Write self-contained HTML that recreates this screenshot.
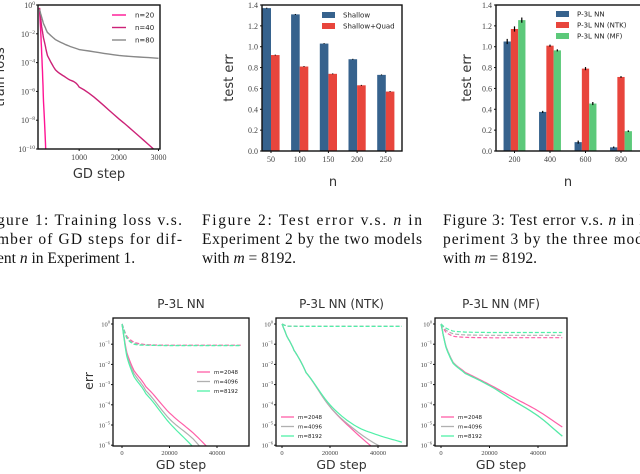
<!DOCTYPE html>
<html><head><meta charset="utf-8">
<style>
html,body{margin:0;padding:0;background:#fff;width:640px;height:474px;overflow:hidden}
svg{display:block}
.tk{font-family:"Liberation Serif",serif;font-size:8px;fill:#444}
.tks{font-family:"Liberation Serif",serif;font-size:6.5px;fill:#444}
.al{font-family:"DejaVu Sans","Liberation Sans",sans-serif;fill:#333}
.cap{font-family:"Liberation Serif",serif;font-size:15.5px;fill:#111}
.lg{font-family:"DejaVu Sans","Liberation Sans",sans-serif;font-size:7px;fill:#222}
.lgs{font-family:"DejaVu Sans","Liberation Sans",sans-serif;font-size:5.5px;fill:#222}
</style></head><body>
<svg id="root" width="640" height="474" viewBox="0 0 640 474"></svg>
<script>
// ---------- Data ----------
const f1Steps=[0,50,100,200,400,700,1000,2000,3000];
const f1N20=[-0.2,-3,-6.7,-13,-20,-20,-20,-20,-20];
const f1N40=[-0.2,-1.4,-2.3,-3.5,-4.5,-5.1,-5.7,-7.9,-10.3];
const f1N80=[-0.3,-0.8,-1.3,-1.9,-2.4,-2.8,-3.1,-3.5,-3.7];
const f1Labels=["n=20","n=40","n=80"];
const f2Cats=["50","100","150","200","250"];
const f2Shallow=[1.37,1.31,1.03,0.88,0.73];
const f2Quad=[0.92,0.81,0.74,0.63,0.57];
const f3Cats=["200","400","600","800","1000"];
const f3P3L=[1.05,0.375,0.085,0.035,0.02];
const f3NTK=[1.17,1.01,0.79,0.71,0.65];
const f3MF=[1.255,0.965,0.455,0.19,0.1];
const f3Err=[0.025,0.01,0.015,0.008,0.005];
const bSteps=[0,2000,5000,10000,20000,30000,40000,50000];
const b1Pink=[0,-1.4,-2.3,-3.1,-4.4,-5.4,-6.5,-7];
const b1Gray=[0,-1.5,-2.45,-3.3,-4.7,-5.7,-7,-7.5];
const b1Green=[0,-1.6,-2.6,-3.45,-4.9,-6.1,-7.5,-8];
const b1DPink=[0,-0.6,-0.9,-1.02,-1.05,-1.05,-1.05,-1.05];
const b1DGray=[0,-0.65,-0.95,-1.04,-1.06,-1.06,-1.06,-1.06];
const b1DGreen=[0,-0.7,-1.0,-1.05,-1.07,-1.07,-1.07,-1.07];
const b2Pink=[0,-0.6,-1.3,-2.4,-4.1,-5.3,-6.3,-7];
const b2Gray=[0,-0.6,-1.3,-2.4,-4.1,-5.2,-6.0,-6.5];
const b2Green=[0,-0.6,-1.3,-2.4,-4.0,-5.0,-5.5,-5.85];
const b2DPink=[0,-0.1,-0.11,-0.12,-0.12,-0.12,-0.12,-0.12];
const b2DGray=[0,-0.1,-0.11,-0.12,-0.12,-0.12,-0.12,-0.12];
const b2DGreen=[0,-0.1,-0.11,-0.12,-0.12,-0.12,-0.12,-0.12];
const b3Pink=[0,-1.1,-1.9,-2.4,-3.0,-3.65,-4.3,-5.1];
const b3Gray=[0,-1.1,-1.9,-2.45,-3.05,-3.8,-4.55,-5.55];
const b3Green=[0,-1.15,-1.95,-2.45,-3.05,-3.8,-4.55,-5.55];
const b3DPink=[0,-0.4,-0.6,-0.66,-0.68,-0.68,-0.68,-0.68];
const b3DGray=[0,-0.3,-0.48,-0.54,-0.56,-0.56,-0.56,-0.56];
const b3DGreen=[0,-0.2,-0.35,-0.4,-0.42,-0.42,-0.42,-0.42];
const mLabels=["m=2048","m=4096","m=8192"];

const NS="http://www.w3.org/2000/svg";
const root=document.getElementById('root');
function el(tag,attrs,parent,text){const e=document.createElementNS(NS,tag);for(const k in attrs)e.setAttribute(k,attrs[k]);if(text!==undefined)e.textContent=text;(parent||root).appendChild(e);return e;}
function sup(parent,x,y,exp,cls,anchor){
  const t=el('text',{x:x,y:y,class:cls,'text-anchor':anchor||'end'},parent);
  
  
  el('tspan',{},t,'10');el('tspan',{dy:-3,'font-size':'0.7em'},t,exp);return t;
}
let clipId=0;
function clip(x0,y0,x1,y1){const id='c'+(clipId++);const c=el('clipPath',{id:id});el('rect',{x:x0,y:y0,width:x1-x0,height:y1-y0},c);return id;}
function line(g,xs,ys,sx,sy,color,w,dash,name){
  let d='';xs.forEach((v,i)=>{d+=(i?'L':'M')+sx(v).toFixed(1)+','+sy(ys[i]).toFixed(1);});
  const p=el('path',{d:d,fill:'none',stroke:color,'stroke-width':w,'stroke-dasharray':dash||'none'},g);
  
  
}
function smooth(xs,ys,n){const ox=[],oy=[];for(let i=0;i<xs.length-1;i++){for(let k=0;k<n;k++){const t=k/n;const m0=i>0?(ys[i+1]-ys[i-1])/2:(ys[i+1]-ys[i]);const m1=i<xs.length-2?(ys[i+2]-ys[i])/2:(ys[i+1]-ys[i]);const h00=2*t*t*t-3*t*t+1,h10=t*t*t-2*t*t+t,h01=-2*t*t*t+3*t*t,h11=t*t*t-t*t;ox.push(xs[i]+(xs[i+1]-xs[i])*t);oy.push(h00*ys[i]+h10*m0+h01*ys[i+1]+h11*m1);}}ox.push(xs[xs.length-1]);oy.push(ys[ys.length-1]);return [ox,oy];}

// ---------- Figure 1 ----------
(function(){
  const g=el('g',{});
  const X0=39.5,X1=158.5,Y0=5,Y1=149,L=38,R=160;
  const sx=v=>X0+(v/3000)*(X1-X0), sy=v=>Y0+(-v/10)*(Y1-Y0);
  const cid=clip(L,Y0,R,Y1);const cg=el('g',{'clip-path':'url(#'+cid+')'},g);
  const cols=['#ff1493','#cc2277','#888888'];const sers=[f1N20,f1N40,f1N80];
  sers.forEach((s,i)=>{const [a,b]=smooth(f1Steps,s,8);line(cg,a,b,sx,sy,cols[i],1.4,null,'line-'+f1Labels[i]);});
  el('rect',{x:L,y:Y0,width:R-L,height:Y1-Y0,fill:'none',stroke:'#111','stroke-width':1.4},g);
  for(let e=0;e>=-10;e-=2){el('line',{x1:L-2,x2:L,y1:sy(e),y2:sy(e),stroke:'#111'},g);sup(g,L-3,sy(e)+3,e===0?'0':'−'+(-e),'tk');}
  [1000,2000,3000].forEach(v=>{el('line',{x1:sx(v),x2:sx(v),y1:Y1,y2:Y1+2,stroke:'#111'},g);const t=el('text',{x:sx(v),y:Y1+11,class:'tk','text-anchor':'middle'},g,v);});
  const xl=el('text',{x:99,y:178,class:'al','font-size':13,'text-anchor':'middle'},g,'GD step');
  const yl=el('text',{x:0,y:0,class:'al','font-size':13,'text-anchor':'middle',transform:'translate(4,77) rotate(-90)'},g,'train loss');
  f1Labels.forEach((lb,i)=>{const y=15+i*12.5;el('line',{x1:112,x2:126,y1:y,y2:y,stroke:cols[i],'stroke-width':1.4},g);const t=el('text',{x:135,y:y+2.5,class:'lg','font-size':6},g,lb);});
})();

// ---------- Bar charts ----------
function bars(opts){
  const g=el('g',{});
  const {L,R,Y0,Y1,c0,dc,bw,series,cols,cats,labels,err}=opts;
  const sy=v=>Y1-(v/1.4)*(Y1-Y0);
  const cid=clip(L,Y0-1,R,Y1);const cg=el('g',{'clip-path':'url(#'+cid+')'},g);
  const ns=series.length;
  cats.forEach((c,i)=>{const cx=c0+i*dc;
    series.forEach((s,j)=>{const x=cx+(j-ns/2)*bw;
      const r=el('rect',{x:x,y:sy(s[i]),width:bw,height:Y1-sy(s[i]),fill:cols[j]},cg);
      
      
      const e=err?err[i]:0.004;
      el('line',{x1:x+bw/2,x2:x+bw/2,y1:sy(s[i]+e),y2:sy(s[i]-e),stroke:'#000','stroke-width':1.2},cg);
    });
    if(cx<R){el('line',{x1:cx,x2:cx,y1:Y1,y2:Y1+2,stroke:'#111'},g);const t=el('text',{x:cx,y:Y1+11,class:'tk','text-anchor':'middle'},g,c);}
  });
  el('rect',{x:L,y:Y0,width:R-L,height:Y1-Y0,fill:'none',stroke:'#111','stroke-width':1.4},g);
  for(let k=0;k<=7;k++){const v=k*0.2;el('line',{x1:L-2,x2:L,y1:sy(v),y2:sy(v),stroke:'#111'},g);const t=el('text',{x:L-4,y:sy(v)+3,class:'tk','text-anchor':'end'},g,v.toFixed(1));}
  const xl=el('text',{x:opts.xlx,y:186,class:'al','font-size':13,'text-anchor':'middle'},g,'n');
  const yl=el('text',{x:0,y:0,class:'al','font-size':13,'text-anchor':'middle',transform:'translate('+opts.ylx+',78) rotate(-90)'},g,'test err');
  labels.forEach((lb,i)=>{const y=opts.legY+i*opts.legDy;el('rect',{x:opts.legX,y:y-3,width:13,height:6,fill:cols[i]},g);const t=el('text',{x:opts.legX+21,y:y+2.5,class:'lg'},g,lb);});
}
bars({name:'figure2-test-error',L:262,R:402,Y0:5,Y1:151,c0:271,dc:28.7,bw:8.6,series:[f2Shallow,f2Quad],cols:['#36628d','#e8453c'],cats:f2Cats,labels:['Shallow','Shallow+Quad'],legX:322,legY:15,legDy:11,xlx:333,ylx:233});
bars({name:'figure3-test-error',L:496,R:660,Y0:5,Y1:151,c0:514.5,dc:35.5,bw:7.3,series:[f3P3L,f3NTK,f3MF],cols:['#36628d','#e8453c','#5cc97a'],cats:f3Cats,labels:['P-3L NN','P-3L NN (NTK)','P-3L NN (MF)'],err:f3Err,legX:556,legY:14,legDy:11,xlx:568,ylx:471});

// ---------- Captions ----------
function cap(x,y,txt,name,len){const a={x:x,y:y,class:'cap'};if(len){a.textLength=len;a.lengthAdjust='spacing';}const t=el('text',a,root);t.innerHTML=txt;}
cap(-3,225,'gure 1:  Training loss v.s.','caption-1-line-1',185);
cap(-3,244,'mber of GD steps for dif-','caption-1-line-2',185);
cap(-3,263,'ent <tspan font-style="italic">n</tspan> in Experiment 1.','caption-1-line-3');
cap(202,225,'Figure 2:  Test error v.s.  <tspan font-style="italic">n</tspan> in','caption-2-line-1',220);
cap(202,244,'Experiment 2 by the two models','caption-2-line-2',220);
cap(202,263,'with <tspan font-style="italic">m</tspan> = 8192.','caption-2-line-3');
cap(443,225,'Figure 3: Test error v.s. <tspan font-style="italic">n</tspan> in Ex-','caption-3-line-1',220);
cap(443,244,'periment 3 by the three models','caption-3-line-2',220);
cap(443,263,'with <tspan font-style="italic">m</tspan> = 8192.','caption-3-line-3');

// ---------- Bottom figures ----------
function bottom(o){
  const g=el('g',{});
  const {L,R,x0,x40}=o;const T=318,B=446;
  const sx=v=>x0+v/40000*(x40-x0), sy=v=>324+(-v)*20.2;
  const cid=clip(L,T,R,B);const cg=el('g',{'clip-path':'url(#'+cid+')'},g);
  const cols=['#ff5fa8','#b0b0b0','#50f0a8'];
  o.dashed.forEach((s,i)=>{const [a,b]=smooth(bSteps,s,10);line(cg,a,b,sx,sy,cols[i],1.2,'4,2','dashed-'+mLabels[i]);});
  o.solid.forEach((s,i)=>{const [a,b]=smooth(bSteps,s,10);line(cg,a,b,sx,sy,cols[i],1.2,null,'solid-'+mLabels[i]);});
  el('rect',{x:L,y:T,width:R-L,height:B-T,fill:'none',stroke:'#111','stroke-width':1.3},g);
  for(let e=0;e>=-6;e--){el('line',{x1:L-2,x2:L,y1:sy(e),y2:sy(e),stroke:'#111'},g);sup(g,L-3,sy(e)+2.5,e===0?'0':'−'+(-e),'tks');}
  [0,20000,40000].forEach(v=>{el('line',{x1:sx(v),x2:sx(v),y1:B,y2:B+2,stroke:'#111'},g);const t=el('text',{x:sx(v),y:B+9,class:'tks','text-anchor':'middle'},g,v);});
  const tt=el('text',{x:(L+R)/2,y:308,class:'al','font-size':12,'text-anchor':'middle'},g,o.title);
  const xl=el('text',{x:(L+R)/2,y:469,class:'al','font-size':12.5,'text-anchor':'middle'},g,'GD step');
  mLabels.forEach((lb,i)=>{const y=o.legY+i*9.5;el('line',{x1:o.legX,x2:o.legX+13,y1:y,y2:y,stroke:cols[i],'stroke-width':1.3},g);const t=el('text',{x:o.legX+17,y:y+2,class:'lgs'},g,lb);});
}
bottom({name:'figure4-p3l-nn',title:'P-3L NN',L:113,R:249,x0:122,x40:217,solid:[b1Pink,b1Gray,b1Green],dashed:[b1DPink,b1DGray,b1DGreen],legX:197,legY:372});
bottom({name:'figure5-p3l-nn-ntk',title:'P-3L NN (NTK)',L:276,R:407,x0:282,x40:378,solid:[b2Pink,b2Gray,b2Green],dashed:[b2DPink,b2DGray,b2DGreen],legX:281,legY:417});
bottom({name:'figure6-p3l-nn-mf',title:'P-3L NN (MF)',L:435,R:567,x0:441,x40:538,solid:[b3Pink,b3Gray,b3Green],dashed:[b3DPink,b3DGray,b3DGreen],legX:441,legY:417});
const eyl=el('text',{x:0,y:0,class:'al','font-size':12.5,'text-anchor':'middle',transform:'translate(93,381) rotate(-90)'},root,'err');


</script>
</body></html>
